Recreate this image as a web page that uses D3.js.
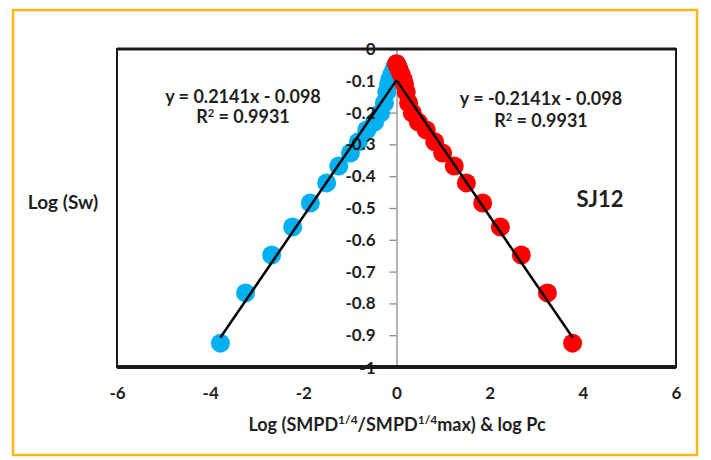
<!DOCTYPE html>
<html><head><meta charset="utf-8">
<script src="https://cdn.jsdelivr.net/npm/d3@7"></script>
<style>body{margin:0;background:#fff}svg{display:block}text{font-family:Lato,"Open Sans",sans-serif;font-weight:bold;fill:#1f1f1f}</style>
</head><body><svg id="c" width="711" height="460"></svg>
<script>
const blueX = [-3.78,-3.24,-2.68,-2.23,-1.85,-1.50,-1.24,-0.99,-0.82,-0.64,-0.47,-0.34,-0.26,-0.21,-0.17,-0.14,-0.10,-0.06,-0.03,0.0];
const blueY = [-0.925,-0.767,-0.648,-0.560,-0.484,-0.421,-0.368,-0.327,-0.292,-0.255,-0.230,-0.201,-0.170,-0.135,-0.110,-0.095,-0.080,-0.066,-0.055,-0.046];
const redX  = [3.78,3.24,2.68,2.23,1.85,1.50,1.24,0.99,0.82,0.64,0.47,0.34,0.26,0.21,0.17,0.14,0.10,0.06,0.03,0.0];
const redY  = [-0.925,-0.767,-0.648,-0.560,-0.484,-0.421,-0.368,-0.327,-0.292,-0.255,-0.230,-0.201,-0.170,-0.135,-0.110,-0.095,-0.080,-0.066,-0.055,-0.046];
const xTicks = [-6,-4,-2,0,2,4,6];
const yTicks = [0,-0.1,-0.2,-0.3,-0.4,-0.5,-0.6,-0.7,-0.8,-0.9,-1];
const blueFit = {slope:0.2141, intercept:-0.098, label:"y = 0.2141x - 0.098", r2:"0.9931"};
const redFit  = {slope:-0.2141, intercept:-0.098, label:"y = -0.2141x - 0.098", r2:"0.9931"};

const svg = d3.select("#c");
const x = d3.scaleLinear().domain([-6,6]).range([117,676]);
const y = d3.scaleLinear().domain([-1,0]).range([367,49]);
const hy = v => v===0 ? "0" : (v<0 ? "-" : "") + (Number.isInteger(v) ? String(Math.abs(v)) : Math.abs(v).toFixed(1));

svg.append("rect").attr("x",13).attr("y",10).attr("width",684).attr("height",445)
  .attr("fill","#fff").attr("stroke","#FFB612").attr("stroke-width",2.5);

const gy = svg.append("g").attr("transform",`translate(${x(0)},0)`)
  .call(d3.axisLeft(y).tickValues(yTicks).tickSize(7).tickFormat(""));
gy.select(".domain").attr("stroke","#8c8c8c").attr("stroke-width",1.3);
gy.selectAll(".tick line").attr("stroke","#8c8c8c").attr("stroke-width",1.3);

const xAxis = d3.axisBottom(x).tickValues(xTicks).tickSize(0).tickPadding(20).tickFormat(hy);
const gx = svg.append("g").attr("transform",`translate(0,${y(-1)})`).call(xAxis);
gx.select(".domain").remove();
gx.selectAll(".tick text").style("font-size","17px").attr("fill","#1f1f1f");

const blue = blueX.map((v,i)=>({x:v,y:blueY[i]}));
const red = redX.map((v,i)=>({x:v,y:redY[i]}));
svg.append("g").selectAll("circle").data(blue).join("circle")
  .attr("cx",d=>x(d.x)).attr("cy",d=>y(d.y)).attr("r",9.5).attr("fill","#00B0F0");
svg.append("g").selectAll("circle").data(red).join("circle")
  .attr("cx",d=>x(d.x)).attr("cy",d=>y(d.y)).attr("r",9.5).attr("fill","#FF0000");

const gyl = svg.append("g").attr("transform",`translate(${x(0)},0)`)
  .call(d3.axisLeft(y).tickValues(yTicks).tickSize(7).tickPadding(14).tickFormat(hy));
gyl.select(".domain").remove();
gyl.selectAll(".tick line").remove();
gyl.selectAll(".tick text").style("font-size","17px").attr("fill","#1f1f1f")
  .attr("dy", d => d===-1 ? "0.38em" : "0.32em");

function trend(fit, xs){
  const x0=d3.min(xs), x1=d3.max(xs);
  svg.append("line").attr("x1",x(x0)).attr("y1",y(fit.slope*x0+fit.intercept))
    .attr("x2",x(x1)).attr("y2",y(fit.slope*x1+fit.intercept))
    .attr("stroke","#000").attr("stroke-width",2.5);
}
trend(blueFit, blueX);
trend(redFit, redX);

svg.append("rect").attr("x",x(-6)).attr("y",y(0)).attr("width",x(6)-x(-6)).attr("height",y(-1)-y(0))
  .attr("fill","none").attr("stroke","#1a1a1a").attr("stroke-width",2);
svg.append("line").attr("x1",x(-6)).attr("x2",x(6)).attr("y1",y(0)).attr("y2",y(0)).attr("stroke","#1a1a1a").attr("stroke-width",3);
svg.append("line").attr("x1",x(-6)).attr("x2",x(6)).attr("y1",y(-1)).attr("y2",y(-1)).attr("stroke","#1a1a1a").attr("stroke-width",4);

function eq(fit, cx, cy1, cy2){
  svg.append("text").attr("x",cx).attr("y",cy1).attr("text-anchor","middle").style("font-size","18px").text(fit.label);
  const t = svg.append("text").attr("x",cx).attr("y",cy2).attr("text-anchor","middle").style("font-size","18px");
  t.append("tspan").text("R");
  t.append("tspan").attr("baseline-shift","super").style("font-size","11px").text("2");
  t.append("tspan").text(" = " + fit.r2);
}
eq(blueFit, 243, 103, 123);
eq(redFit, 541, 105, 127);

svg.append("text").attr("x",600).attr("y",207).attr("text-anchor","middle").style("font-size","22px").text("SJ12");
svg.append("text").attr("x",63).attr("y",209).attr("text-anchor","middle").style("font-size","19px").text("Log (Sw)");

const xt = svg.append("text").attr("x",397).attr("y",431).attr("text-anchor","middle").style("font-size","18px");
xt.append("tspan").text("Log (SMPD");
xt.append("tspan").attr("baseline-shift","super").style("font-size","12px").text("1/4");
xt.append("tspan").text("/SMPD");
xt.append("tspan").attr("baseline-shift","super").style("font-size","12px").text("1/4");
xt.append("tspan").text("max) & log Pc");
</script></body></html>
